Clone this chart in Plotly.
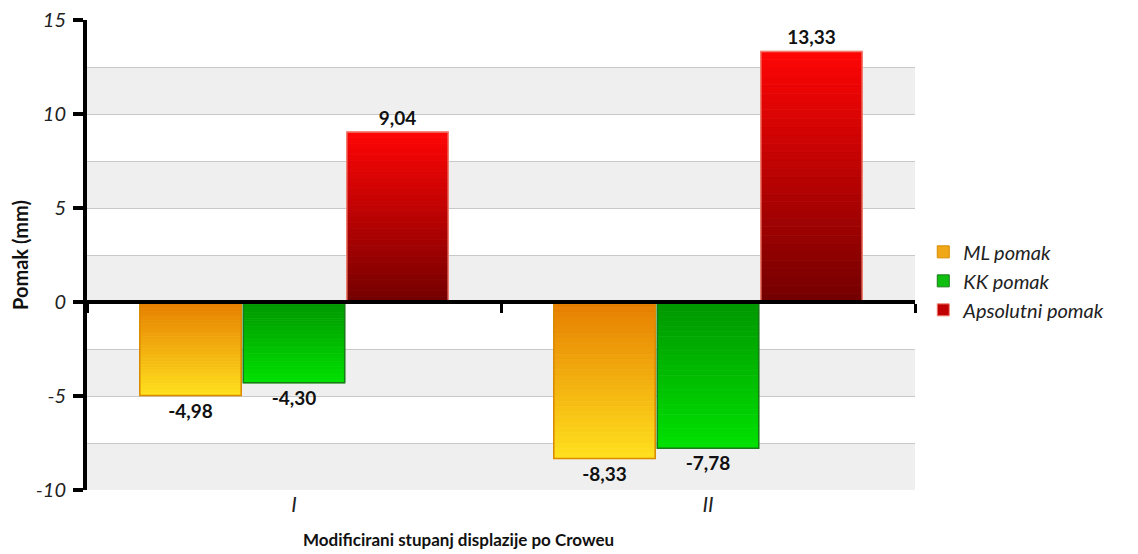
import plotly.graph_objects as go

categories = ["I", "II"]
series_names = ["ML pomak", "KK pomak", "Apsolutni pomak"]
ml_values = [-4.98, -8.33]
kk_values = [-4.30, -7.78]
aps_values = [9.04, 13.33]
y_ticks = [-10, -5, 0, 5, 10, 15]

values = [ml_values, kk_values, aps_values]
# gradient colours: (colour at zero end, colour at outer end)
grad = [((230, 125, 0), (255, 225, 30)),
        ((0, 150, 0), (0, 225, 0)),
        ((115, 0, 0), (255, 5, 5))]
line_cols = ["#d98a00", "#1a7a1a", "#f08070"]
legend_cols = ["#f0a818", "#10c010", "#c00000"]

N = 30
fig = go.Figure()
for s, (name, vals) in enumerate(zip(series_names, values)):
    c0, c1 = grad[s]
    for i in range(N):
        t = (i + 0.5) / N
        col = "rgb(%d,%d,%d)" % tuple(round(c0[k] + (c1[k] - c0[k]) * t) for k in range(3))
        last = i == N - 1
        fig.add_trace(go.Bar(
            x=categories, y=[v / N for v in vals], base=[v * i / N for v in vals],
            offsetgroup=str(s), marker=dict(color=col, line=dict(width=0.8, color=col)),
            showlegend=False, hoverinfo="skip",
            text=[f"{v:.2f}".replace(".", ",") for v in vals] if last else None,
            textposition="outside" if last else "none",
            textfont=dict(family="Lato", size=19, color="#111", weight="bold"),
            cliponaxis=False,
        ))
    # outline
    fig.add_trace(go.Bar(
        x=categories, y=vals, offsetgroup=str(s),
        marker=dict(color="rgba(0,0,0,0)", line=dict(color=line_cols[s], width=1.5)),
        showlegend=False, hoverinfo="skip"))
    # legend entry
    fig.add_trace(go.Bar(
        x=[None], y=[None], name=name, offsetgroup=str(s),
        marker=dict(color=legend_cols[s], line=dict(color=line_cols[s], width=1))))

# alternating bands
for lo in [-10, -5, 0, 5, 10]:
    fig.add_shape(type="rect", xref="paper", yref="y", x0=0, x1=1, y0=lo, y1=lo + 2.5,
                  fillcolor="#efefef", line=dict(width=0), layer="below")

fig.add_trace(go.Scatter(x=[-0.5, 1.5], y=[0, 0], xaxis="x2", mode="lines",
                         line=dict(width=0), showlegend=False, hoverinfo="skip"))

fig.add_annotation(text="Modificirani stupanj displazije po Croweu", xref="paper", yref="paper",
                   x=0.449, y=-0.106, xanchor="center", yanchor="middle", showarrow=False,
                   font=dict(size=17, weight="bold", color="#111"))
fig.add_annotation(text="Pomak (mm)", xref="paper", yref="paper", textangle=-90,
                   x=-0.081, y=0.5, xanchor="center", yanchor="middle", showarrow=False,
                   font=dict(size=20, weight="bold", color="#111"))

fig.update_layout(
    width=1130, height=546,
    margin=dict(l=79, r=223, t=12, b=64, autoexpand=False),
    plot_bgcolor="white", paper_bgcolor="white",
    barmode="group", bargap=0.25, bargroupgap=0.02,
    font=dict(family="Lato", color="#222"),
    xaxis=dict(type="category", categoryorder="array", categoryarray=categories,
               range=[-0.5, 1.5], showline=False, ticks="", showgrid=False, automargin=False,
               tickfont=dict(size=21, style="italic", color="#222")),
    xaxis2=dict(overlaying="x", anchor="free", position=0.4, range=[-0.5, 1.5],
                showline=True, linecolor="black", linewidth=4,
                tickvals=[-0.5, 0.5, 1.5], ticks="outside", ticklen=9, tickwidth=3,
                tickcolor="black", showticklabels=False, showgrid=False, zeroline=False),
    yaxis=dict(range=[-10, 15], tickvals=y_ticks, ticktext=[str(v) for v in y_ticks],
               showline=True, linecolor="black",
               linewidth=4, ticks="outside", ticklen=10, tickwidth=4, tickcolor="black",
               showgrid=True, gridcolor="#c8c8c8", gridwidth=1, zeroline=False,
               automargin=False, ticklabelstandoff=3, ticklabeloverflow="allow",
               minor=dict(dtick=2.5, showgrid=True, gridcolor="#c8c8c8", ticks=""),
               tickfont=dict(size=20, style="italic", color="#222")),
    legend=dict(x=1.01, y=0.445, yanchor="middle", xanchor="left",
                font=dict(size=20, style="italic", color="#222"),
                itemwidth=30, tracegroupgap=0),
)

fig.write_html("out.html")
